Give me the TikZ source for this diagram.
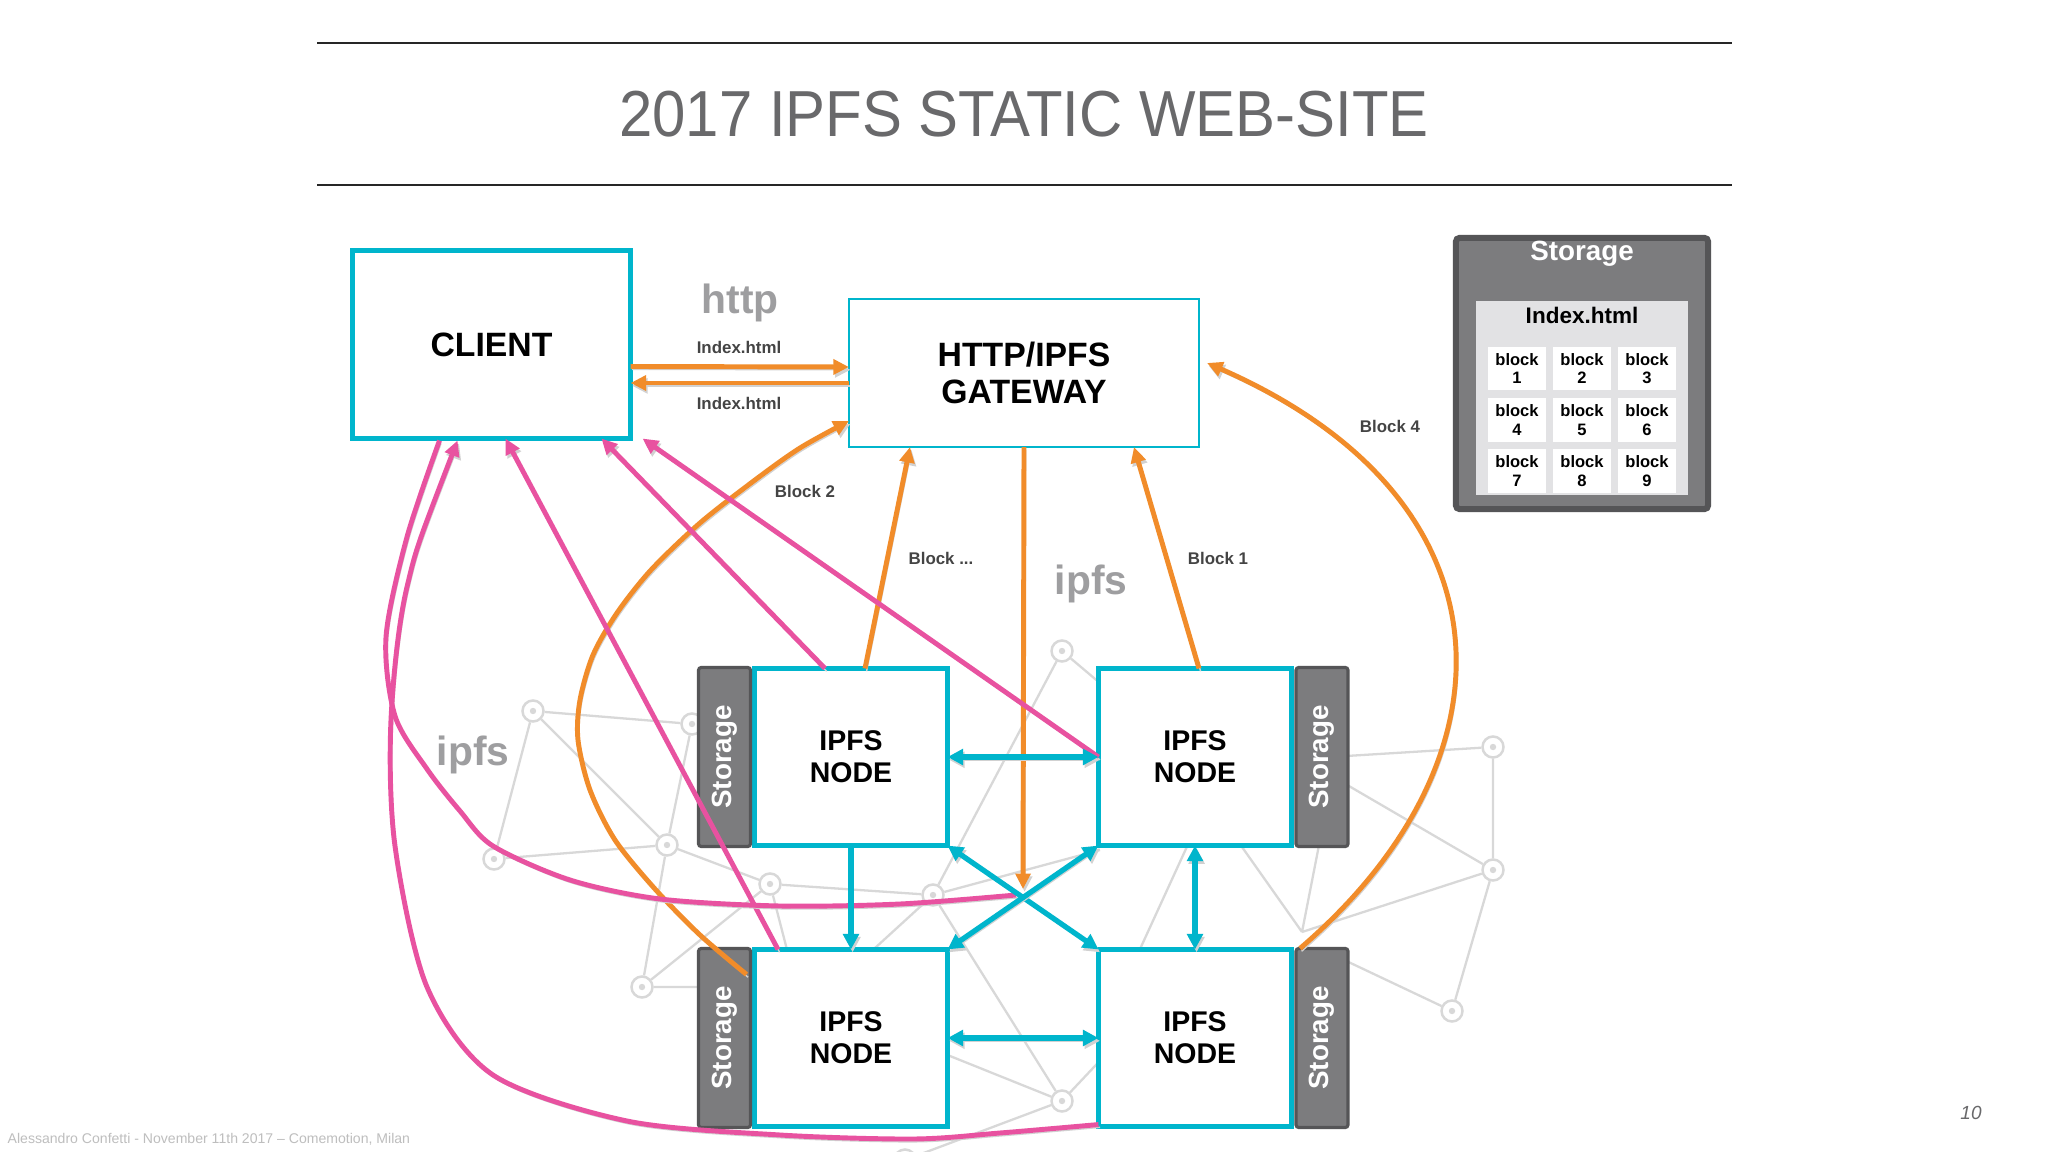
\documentclass[tikz,border=0pt]{standalone}
\usepackage{fontspec}
\setmainfont{Liberation Sans}
\newfontfamily\titlefont[FakeStretch=0.92]{Liberation Sans}
\usetikzlibrary{arrows.meta,calc}
\definecolor{cy}{RGB}{0,181,204}
\definecolor{orng}{RGB}{241,140,42}
\definecolor{pnk}{RGB}{232,82,160}
\definecolor{netc}{RGB}{216,216,216}
\definecolor{labc}{RGB}{68,68,68}
\definecolor{bigc}{RGB}{158,158,160}
\definecolor{stdark}{RGB}{85,85,87}
\definecolor{stfill}{RGB}{124,124,126}
\definecolor{stinner}{RGB}{226,226,228}
\definecolor{titc}{RGB}{105,105,107}
\definecolor{footc}{RGB}{190,190,190}
\newcommand\myfs[2]{\fontsize{#1}{#2}\selectfont}
\tikzset{
  boxcy/.style={draw=cy, line width=1.4pt, fill=white, inner sep=0pt, outer sep=0pt},
  gwbox/.style={draw=cy, line width=0.75pt, fill=white, inner sep=0pt, outer sep=0pt},
  ipfsnode/.style={boxcy, minimum width=1.93cm, minimum height=1.77cm, font=\bfseries\myfs{8.1}{9}, align=center},
  stbar/.style={draw=stdark, line width=0.9pt, fill=stfill, minimum width=0.52cm, minimum height=1.79cm, inner sep=0pt, outer sep=0pt, rounded corners=0.8pt},
  sttext/.style={text=white, font=\bfseries\myfs{7.9}{9}, rotate=90, inner sep=0pt},
  lab/.style={text=labc, font=\bfseries\myfs{4.8}{5.5}, inner sep=0pt},
  biglab/.style={text=bigc, font=\bfseries\myfs{11.6}{13}, inner sep=0pt},
  shad/.style={preaction={draw=black!18, transform canvas={shift={(0.45pt,-0.8pt)}}}},
  orarrow/.style={shad, draw=orng, line width=1.4pt, -{Triangle[length=4.4pt,width=4.2pt]}},
  orline/.style={shad, draw=orng, line width=1.4pt},
  pkarrow/.style={shad, draw=pnk, line width=1.4pt, -{Triangle[length=4.4pt,width=4.2pt]}},
  pkline/.style={shad, draw=pnk, line width=1.4pt},
  cyarrow/.style={shad, draw=cy, line width=1.5pt, {Triangle[length=4.4pt,width=4.4pt]}-{Triangle[length=4.4pt,width=4.4pt]}},
  cyone/.style={shad, draw=cy, line width=1.5pt, -{Triangle[length=4.4pt,width=4.4pt]}},
  netnode/.style={circle, draw=netc, fill=white, line width=0.7pt, minimum size=0.21cm, inner sep=0pt},
  netline/.style={draw=netc, line width=0.65pt},
  blk/.style={fill=white, minimum width=0.58cm, minimum height=0.43cm, inner sep=0pt, align=center, font=\bfseries\myfs{4.7}{5.3}}
}
\begin{document}
\begin{tikzpicture}[x=0.01cm,y=-0.01cm]
\useasboundingbox (0,0) rectangle (2048,1152);
\fill[white] (0,0) rectangle (2048,1152);

% ---------- background network ----------
\foreach \nm/\px/\py in {n1/533/711, n2/692/724, n3/667/845, n4/494/859, n5/770/884, n6/933/895, n7/1062/651, n8/642/987, n9/1062/1101, n10/1493/747, n11/1493/870, n12/1452/1011, n13/905/1160}{
  \node[netnode] (\nm) at (\px,\py) {};
  \fill[netc] (\px,\py) circle (3.2);
}
\coordinate (h1) at (1120,700);
\coordinate (h2) at (1100,850);
\coordinate (h3) at (840,980);
\coordinate (h4) at (800,1000);
\coordinate (h5) at (760,987);
\coordinate (h6) at (940,1052);
\coordinate (h7) at (1110,1050);
\coordinate (h8) at (1330,757);
\coordinate (h9) at (1330,775);
\coordinate (h10) at (1302,932);
\coordinate (h11) at (1340,958);
\coordinate (h12) at (1230,830);
\coordinate (h13) at (1190,840);
\coordinate (h14) at (1135,960);
\coordinate (h15) at (1320,840);
\draw[netline] (n1) -- (n2) (n1) -- (n3) (n1) -- (n4) (n4) -- (n3) (n3) -- (n2) (n3) -- (n5)
  (n3) -- (n8) (n5) -- (n8) (n5) -- (n6) (n5) -- (h4) (n8) -- (h5)
  (n6) -- (n7) (n6) -- (h2) (n6) -- (n9) (n6) -- (h3) (n7) -- (h1)
  (n9) -- (h6) (n9) -- (h7) (n9) -- (n13)
  (n10) -- (n11) (n10) -- (h8) (n11) -- (h9) (n11) -- (h10) (n11) -- (n12) (n12) -- (h11)
  (h12) -- (h10) (h15) -- (h10) (h13) -- (h14);

% ---------- title ----------
\draw[line width=0.8pt, black!85] (317,43) -- (1732,43);
\draw[line width=0.8pt, black!85] (317,185) -- (1732,185);
\node[text=titc, font=\titlefont\myfs{18.5}{20}, inner sep=0pt] (title) at (1024,114) {2017 IPFS STATIC WEB-SITE};

% ---------- main boxes ----------
\node[boxcy, minimum width=2.78cm, minimum height=1.88cm, font=\bfseries\myfs{9.6}{10.4}] (client) at (491.5,344.5) {CLIENT};
\node[gwbox, minimum width=3.50cm, minimum height=1.48cm, font=\bfseries\myfs{9.6}{10.5}, align=center] (gateway) at (1024,373) {HTTP/IPFS\\GATEWAY};

\node[ipfsnode] (tl) at (851,757) {IPFS\\NODE};
\node[ipfsnode] (tr) at (1195,757) {IPFS\\NODE};
\node[ipfsnode] (bl) at (851,1038) {IPFS\\NODE};
\node[ipfsnode] (br) at (1195,1038) {IPFS\\NODE};

\node[stbar] (tlbar) at (724.5,757) {};
\node[stbar] (trbar) at (1322,757) {};
\node[stbar] (blbar) at (724.5,1038) {};
\node[stbar] (brbar) at (1322,1038) {};
\node[sttext] (tlbartxt) at (tlbar) {Storage};
\node[sttext] (trbartxt) at (trbar) {Storage};
\node[sttext] (blbartxt) at (blbar) {Storage};
\node[sttext] (brbartxt) at (brbar) {Storage};

% ---------- storage panel ----------
\node[draw=stdark, line width=1.7pt, fill=stfill, minimum width=2.52cm, minimum height=2.71cm, inner sep=0pt, rounded corners=1pt] (stpanel) at (1582,373.5) {};
\node[fill=stinner, minimum width=2.12cm, minimum height=1.94cm, inner sep=0pt] (stin) at (1582,398) {};
\node[text=white, font=\bfseries\myfs{7.9}{9}, inner sep=0pt] (sttitle) at (1582,254) {Storage};
\node[font=\bfseries\myfs{6.4}{7}, inner sep=0pt] (stindex) at (1582,315) {Index.html};
\foreach \i/\px/\py in {1/1517/368.5, 2/1582/368.5, 3/1647/368.5, 4/1517/420, 5/1582/420, 6/1647/420, 7/1517/471, 8/1582/471, 9/1647/471}{
  \node[blk] (b\i) at (\px,\py) {block\\\i};
}

% ---------- labels ----------
\node[biglab] (httplab) at (740,303) {http};
\node[biglab] (ipfsmid) at (1091,584) {ipfs};
\node[biglab] (ipfsleft) at (473,755) {ipfs};
\node[lab] (idx1) at (739,347) {Index.html};
\node[lab] (idx2) at (739,403) {Index.html};
\node[lab] (lb2) at (805,491) {Block 2};
\node[lab] (lbdots) at (941,558) {Block ...};
\node[lab] (lb1) at (1218,558) {Block 1};
\node[lab] (lb4) at (1390,426) {Block 4};

% ---------- orange connectors ----------
\draw[orarrow] ($(client.east)+(0,22)$) -- ($(gateway.west)+(0,-6)$);
\draw[orarrow] ($(gateway.west)+(0,10)$) -- ($(client.east)+(0,38.5)$);
\coordinate (xc) at (1023,889);
\draw[orarrow] (gateway.south) -- (xc);
\draw[orarrow] ($(tl.north)+(14,0)$) -- ($(gateway.south)+(-114,0)$);
\draw[orarrow] ($(tr.north)+(4,0)$) -- ($(gateway.south)+(110,0)$);
\coordinate (o2a) at ($(blbar.north east)+(-4,26)$);
\coordinate (o2b) at ($(gateway.south west)+(0,-26)$);
\draw[orarrow] plot[smooth] coordinates {(o2a) (700,935) (655,889) (615,840) (590,790) (578,740) (580,700) (593,655) (617,613) (651,570) (700,523) (755,480) (800,448) (o2b)};
\coordinate (o4a) at ($(brbar.north west)+(4,0)$);
\coordinate (o4b) at ($(gateway.east)+(8,-10)$);
\draw[orarrow] (o4a) .. controls (1520,760) and (1520,500) .. (o4b);

% ---------- pink connectors ----------
\draw[pkarrow] ($(tl.north)+(-26,0)$) -- ($(client.south)+(110,0)$);
\draw[pkarrow] (tr.west) -- ($(client.south east)+(12,0)$);
\draw[pkarrow] ($(bl.north)+(-73,0)$) -- ($(client.south)+(14,0)$);
\coordinate (pa0) at ($(client.south)+(-34,2)$);
\coordinate (pa1) at ($(br.south west)+(0,-2)$);
\draw[pkarrow, {Triangle[length=4.4pt,width=4.2pt]}-] plot[smooth] coordinates {(pa0) (407,587) (391,720) (395,846) (427,987) (493,1075) (627,1121) (780,1135) (914,1139) (1000,1133) (pa1)};
\coordinate (pb0) at ($(client.south)+(-52,2)$);
\coordinate (pb1) at (1016,895);
\draw[pkline] plot[smooth] coordinates {(pb0) (407,537) (386,637) (395,716) (427,769) (460,811) (493,846) (570,880) (660,899) (780,906) (900,904) (pb1)};

% ---------- cyan connectors ----------
\draw[cyarrow] (tl.east) -- (tr.west);
\draw[cyarrow] (bl.east) -- (br.west);
\draw[cyone] (tl.south) -- (bl.north);
\draw[cyarrow] (tr.south) -- (br.north);
\draw[cyarrow] (tl.south east) -- (br.north west);
\draw[cyarrow] (tr.south west) -- (bl.north east);

% ---------- footer ----------
\node[anchor=west, text=footc, font=\myfs{4}{5}, inner sep=0pt] (footer) at (7,1139) {Alessandro Confetti - November 11th 2017 – Comemotion, Milan};
\node[text=titc, font=\itshape\myfs{5.4}{6}, inner sep=0pt] (pnum) at (1971,1113) {10};
\end{tikzpicture}
\end{document}
